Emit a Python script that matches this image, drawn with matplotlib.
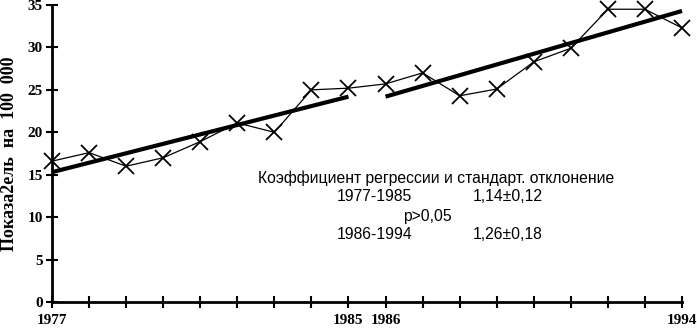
import matplotlib
matplotlib.use('Agg')
import matplotlib.pyplot as plt

# ── data ────────────────────────────────────────────────────────────────────
years = list(range(1977, 1995))
rate = [16.6, 17.6, 16.0, 17.0, 18.9, 21.1, 20.0, 25.0, 25.2,
        25.7, 27.0, 24.3, 25.1, 28.3, 29.9, 34.5, 34.5, 32.3]

# regression segments: (start year, end year, value at start, value at end)
reg1_years = [1977, 1985]
reg1_vals = [15.3, 24.2]
reg2_years = [1986, 1994]
reg2_vals = [24.2, 34.3]

xtick_labels = {1977: '1977', 1985: '1985', 1986: '1986', 1994: '1994'}
yticks = [0, 5, 10, 15, 20, 25, 30, 35]

SERIF = 'Liberation Serif'
SANS = 'Liberation Sans'

fig = plt.figure(figsize=(6.97, 3.31), dpi=100)
ax = fig.add_axes([52 / 697, 29 / 331, 630 / 697, 297 / 331])

ax.plot(years, rate, color='black', lw=0.9, marker='x', ms=11, mew=1.3,
        clip_on=False, zorder=3)
ax.plot(reg1_years, reg1_vals, color='black', lw=3, solid_capstyle='butt',
        clip_on=False, zorder=2)
ax.plot(reg2_years, reg2_vals, color='black', lw=3, solid_capstyle='butt',
        clip_on=False, zorder=2)

ax.set_xlim(1977, 1994)
ax.set_ylim(0, 35)
for s in ('top', 'right'):
    ax.spines[s].set_visible(False)
for s in ('left', 'bottom'):
    ax.spines[s].set_linewidth(2)

ax.set_xticks(years)
ax.set_xticklabels([xtick_labels.get(y, '') for y in years])
ax.set_yticks(yticks)
ax.tick_params(axis='both', direction='inout', length=9, width=1.5)
ax.tick_params(axis='x', pad=4)
ax.tick_params(axis='y', pad=2)
for lab in ax.get_xticklabels():
    lab.set_fontfamily(SERIF)
    lab.set_fontweight('bold')
    lab.set_fontsize(11)
for lab in ax.get_yticklabels():
    lab.set_fontfamily(SERIF)
    lab.set_fontweight('bold')
    lab.set_fontsize(11)

ax.set_ylabel('Показа2ель  на  100  000', fontfamily=SERIF, fontweight='bold',
              fontsize=13, labelpad=7)

# annotation block
fs = 11.3
ax.text(1982.56, 14.6, 'Коэффициент регрессии и стандарт. отклонение',
        fontfamily=SANS, fontsize=fs, va='center', ha='left')
ax.text(1984.69, 12.4, '1977-1985', fontfamily=SANS, fontsize=fs, va='center')
ax.text(1988.36, 12.4, '1,14±0,12', fontfamily=SANS, fontsize=fs, va='center')
ax.text(1986.47, 10.1, 'p>0,05', fontfamily=SANS, fontsize=fs, va='center')
ax.text(1984.69, 7.9, '1986-1994', fontfamily=SANS, fontsize=fs, va='center')
ax.text(1988.36, 7.9, '1,26±0,18', fontfamily=SANS, fontsize=fs, va='center')

fig.savefig('out.png', dpi=100, facecolor='white')
